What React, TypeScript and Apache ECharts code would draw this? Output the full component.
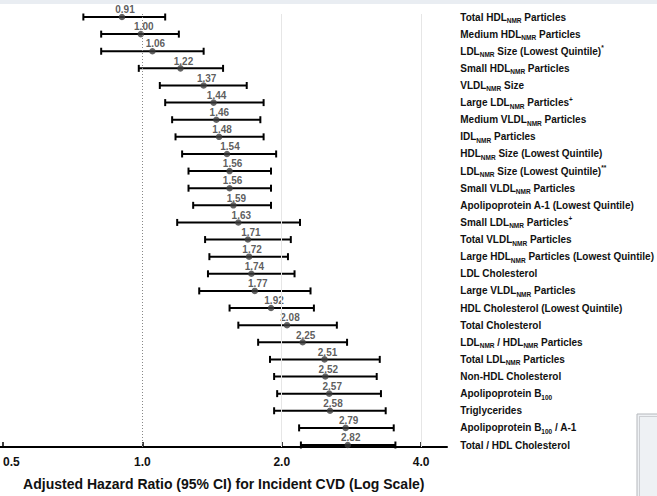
import React, { useEffect, useRef } from "react";
import * as echarts from "echarts";

// Row labels (top to bottom). "_{..}" marks a subscript, "^{..}" a superscript.
const categories = [
  "Total HDL_{NMR} Particles",
  "Medium HDL_{NMR} Particles",
  "LDL_{NMR} Size (Lowest Quintile)^{*}",
  "Small HDL_{NMR} Particles",
  "VLDL_{NMR} Size",
  "Large LDL_{NMR} Particles^{+}",
  "Medium VLDL_{NMR} Particles",
  "IDL_{NMR} Particles",
  "HDL_{NMR} Size (Lowest Quintile)",
  "LDL_{NMR} Size (Lowest Quintile)^{**}",
  "Small VLDL_{NMR} Particles",
  "Apolipoprotein A-1 (Lowest Quintile)",
  "Small LDL_{NMR} Particles^{+}",
  "Total VLDL_{NMR} Particles",
  "Large HDL_{NMR} Particles (Lowest Quintile)",
  "LDL Cholesterol",
  "Large VLDL_{NMR} Particles",
  "HDL Cholesterol (Lowest Quintile)",
  "Total Cholesterol",
  "LDL_{NMR} / HDL_{NMR} Particles",
  "Total LDL_{NMR} Particles",
  "Non-HDL Cholesterol",
  "Apolipoprotein B_{100}",
  "Triglycerides",
  "Apolipoprotein B_{100} / A-1",
  "Total / HDL Cholesterol",
];

const hazardRatio = [
  0.91, 1.0, 1.06, 1.22, 1.37, 1.44, 1.46, 1.48, 1.54, 1.56, 1.56, 1.59, 1.63,
  1.71, 1.72, 1.74, 1.77, 1.92, 2.08, 2.25, 2.51, 2.52, 2.57, 2.58, 2.79, 2.82,
];
const ciLower = [
  0.75, 0.82, 0.82, 0.99, 1.1, 1.13, 1.17, 1.19, 1.23, 1.27, 1.27, 1.3, 1.2,
  1.38, 1.41, 1.4, 1.34, 1.56, 1.63, 1.8, 1.91, 1.95, 1.98, 1.95, 2.21, 2.23,
];
const ciUpper = [
  1.13, 1.21, 1.37, 1.51, 1.7, 1.85, 1.82, 1.85, 1.97, 1.92, 1.92, 1.92, 2.22,
  2.12, 2.09, 2.16, 2.34, 2.38, 2.67, 2.81, 3.31, 3.26, 3.33, 3.41, 3.55, 3.58,
];
const tickValues = [0.5, 1, 2, 4];
const referenceLines = [1, 2, 4];
const axisTitle = "Adjusted Hazard Ratio (95% CI) for Incident CVD (Log Scale)";

const X_MIN = 0.494;
const X_MAX = 4.55;
const FONT = "'Liberation Sans', Arial, sans-serif";

function toRich(label: string): string {
  return label
    .replace(/_\{([^}]*)\}/g, "{sub|$1}")
    .replace(/\^\{([^}]*)\}/g, "{sup|$1}");
}

export default function App() {
  const ref = useRef<HTMLDivElement>(null);

  useEffect(() => {
    if (!ref.current) return;
    const chart = echarts.init(ref.current, undefined, { renderer: "svg" });

    const option: any = {
      animation: false,
      backgroundColor: "#ffffff",
      textStyle: { fontFamily: FONT },
      grid: [
        { left: 0, right: 210, top: 14, bottom: 38 },
        { left: 0, right: 210, top: 17, bottom: 51 },
      ],
      xAxis: [
        {
          gridIndex: 0,
          type: "log",
          logBase: 2,
          min: X_MIN,
          max: X_MAX,
          axisLine: { show: true, lineStyle: { color: "#000", width: 2 } },
          axisTick: {
            show: true,
            inside: true,
            length: 5,
            customValues: tickValues,
            lineStyle: { color: "#000", width: 1.5 },
          },
          axisLabel: {
            show: true,
            customValues: tickValues,
            formatter: (v: number) => v.toFixed(1),
            fontFamily: FONT,
            fontWeight: "bold",
            fontSize: 12,
            color: "#111",
            margin: 9,
            alignMinLabel: "left",
          },
          splitLine: { show: false },
          name: axisTitle,
          nameLocation: "middle",
          nameGap: 30,
          nameTextStyle: {
            fontFamily: FONT,
            fontWeight: "bold",
            fontSize: 14,
            color: "#111",
          },
        },
        {
          gridIndex: 1,
          type: "log",
          logBase: 2,
          min: X_MIN,
          max: X_MAX,
          show: false,
        },
      ],
      yAxis: [
        {
          gridIndex: 0,
          type: "value",
          min: 0,
          max: 1,
          show: false,
        },
        {
          gridIndex: 1,
          type: "category",
          inverse: true,
          boundaryGap: false,
          position: "right",
          data: categories,
          axisLine: { show: false },
          axisTick: { show: false },
          splitLine: { show: false },
          axisLabel: {
            show: true,
            interval: 0,
            margin: 17,
            align: "left",
            fontFamily: FONT,
            fontWeight: "bold",
            fontSize: 10,
            color: "#111",
            lineHeight: 14,
            formatter: (v: string) => toRich(v),
            rich: {
              sub: {
                fontFamily: FONT,
                fontWeight: "bold",
                fontSize: 6.5,
                color: "#111",
                lineHeight: 7,
                verticalAlign: "bottom",
              },
              sup: {
                fontFamily: FONT,
                fontWeight: "bold",
                fontSize: 6.5,
                color: "#111",
                lineHeight: 7,
                verticalAlign: "top",
              },
            },
          },
        },
      ],
      series: [
        {
          type: "scatter",
          xAxisIndex: 0,
          yAxisIndex: 0,
          data: [],
          silent: true,
          markLine: {
            silent: true,
            symbol: "none",
            label: { show: false },
            data: referenceLines.map((v) =>
              v === 1
                ? { xAxis: v, lineStyle: { color: "#888", type: [1, 2], width: 1 } }
                : { xAxis: v, lineStyle: { color: "#e6e6e6", type: "solid", width: 1 } }
            ),
          },
        },
        {
          type: "custom",
          xAxisIndex: 1,
          yAxisIndex: 1,
          silent: true,
          data: categories.map((_, i) => [ciLower[i], ciUpper[i], i]),
          encode: { x: [0, 1], y: 2 },
          renderItem: (params: any, api: any) => {
            const y = api.value(2);
            const p0 = api.coord([api.value(0), y]);
            const p1 = api.coord([api.value(1), y]);
            const cap = 3.5;
            const style = { stroke: "#000", lineWidth: 2 };
            return {
              type: "group",
              children: [
                { type: "line", shape: { x1: p0[0], y1: p0[1], x2: p1[0], y2: p1[1] }, style },
                { type: "line", shape: { x1: p0[0], y1: p0[1] - cap, x2: p0[0], y2: p0[1] + cap }, style },
                { type: "line", shape: { x1: p1[0], y1: p1[1] - cap, x2: p1[0], y2: p1[1] + cap }, style },
              ],
            };
          },
          z: 2,
        },
        {
          type: "scatter",
          xAxisIndex: 1,
          yAxisIndex: 1,
          silent: true,
          symbol: "circle",
          symbolSize: 6.5,
          itemStyle: { color: "#3c3c3c" },
          data: categories.map((_, i) => [hazardRatio[i], i]),
          label: {
            show: true,
            position: "top",
            distance: 0,
            offset: [3, 1],
            formatter: (p: any) => p.value[0].toFixed(2),
            fontFamily: FONT,
            fontWeight: "bold",
            fontSize: 10,
            color: "#333",
          },
          z: 3,
        },
      ],
      graphic: [
        {
          type: "rect",
          shape: { x: 0, y: 0, width: 657, height: 4 },
          style: { fill: "#e9edf2" },
          silent: true,
        },
        {
          type: "rect",
          shape: { x: 637, y: 414, width: 40, height: 100 },
          style: { fill: "#eef1f4", stroke: "#b5b8bc", lineWidth: 1 },
          silent: true,
        },
        {
          type: "rect",
          shape: { x: 639.5, y: 416.5, width: 40, height: 100 },
          style: { fill: "none", stroke: "#9a9da1", lineWidth: 0.8, lineDash: [1, 1] },
          silent: true,
        },
      ],
    };

    chart.setOption(option);
    return () => chart.dispose();
  }, []);

  return (
    <div
      ref={ref}
      style={{ position: "absolute", left: 0, top: 0, width: 657, height: 496 }}
    />
  );
}
